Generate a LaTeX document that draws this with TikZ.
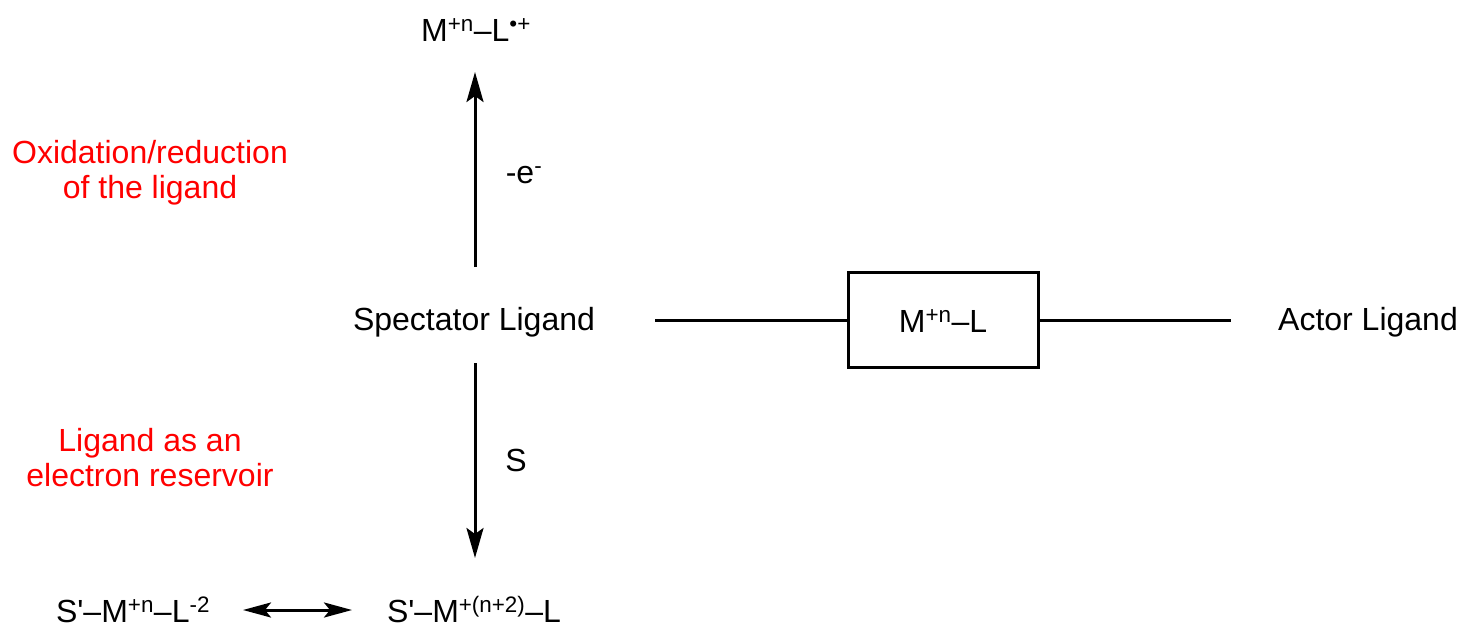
\documentclass[tikz,border=0pt]{standalone}
\usepackage{fontspec}
\setmainfont{Liberation Sans}[Ligatures=TeXOff]
\usetikzlibrary{arrows.meta}
\definecolor{redtxt}{RGB}{255,0,0}
\tikzset{
  lbl/.style={font=\fontsize{32}{34.5}\selectfont, inner sep=0pt, anchor=base},
  note/.style={lbl, text=redtxt, align=center},
  arr/.style={line width=3pt, -{Stealth[length=30pt,width=17pt,inset=6pt]}},
  darr/.style={line width=3pt, {Stealth[length=28pt,width=15pt,inset=6pt]}-{Stealth[length=28pt,width=15pt,inset=6pt]}},
  link/.style={line width=3pt},
  boxed/.style={draw, line width=3pt, minimum width=190pt, minimum height=95pt, inner sep=0pt}
}
\begin{document}
\begin{tikzpicture}[x=1pt,y=-1pt]
\useasboundingbox (0,0) rectangle (1462,629);
\node[lbl] (top) at (476,41) {M\textsuperscript{+n}–L\textsuperscript{•+}};
\node[lbl] (spec) at (474,330) {Spectator Ligand};
\node[lbl] (actor) at (1368,330) {Actor Ligand};
\node[boxed] (box) at (943,320) {};
\node[lbl] (boxtxt) at (943,332) {M\textsuperscript{+n}–L};
\node[lbl] (el) at (524,183) {-e\textsuperscript{-}};
\node[lbl] (s) at (516,471) {S};
\node[note] (ox) at (150,198) {Oxidation/reduction\\of the ligand};
\node[note] (res) at (150,486) {Ligand as an\\electron reservoir};
\node[lbl] (bl) at (133,622) {S'–M\textsuperscript{+n}–L\textsuperscript{-2}};
\node[lbl] (br) at (474,622) {S'–M\textsuperscript{+(n+2)}–L};
\coordinate (upS) at (475,267);
\coordinate (upE) at (475,72);
\coordinate (dnS) at (475,363);
\coordinate (dnE) at (475,558);
\coordinate (l1a) at (655,320);
\coordinate (l2b) at (1231,320);
\coordinate (dl) at (243,610);
\coordinate (dr) at (352,610);
\draw[arr] (upS) -- (upE);
\draw[arr] (dnS) -- (dnE);
\draw[link] (l1a) -- (box.west);
\draw[link] (box.east) -- (l2b);
\draw[darr] (dl) -- (dr);
\end{tikzpicture}
\end{document}
